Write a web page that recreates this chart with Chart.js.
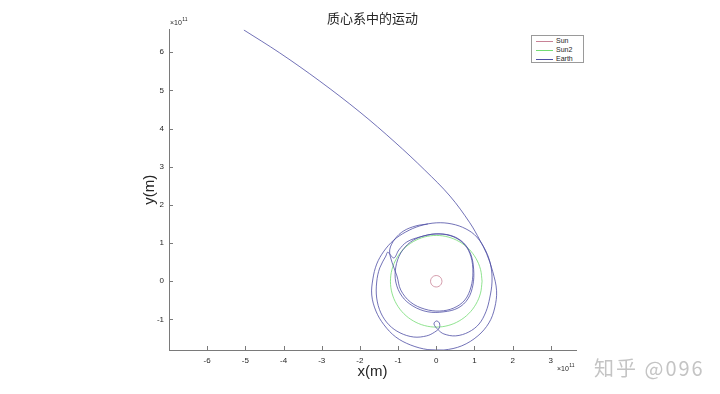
<!DOCTYPE html>
<html>
<head>
<meta charset="utf-8">
<script src="https://cdn.jsdelivr.net/npm/chart.js@4/dist/chart.umd.min.js"></script>
<style>
body{margin:0;background:#fff;}
#wrap{position:relative;width:720px;height:394px;}
#legend{position:absolute;left:531px;top:35px;width:51px;height:26px;border:1px solid #9a9a9a;background:#fff;font:7px "Liberation Sans",Arial,sans-serif;color:#262626;}
#legend div{position:relative;height:8px;margin-top:1px;}
#legend span.l{position:absolute;left:4px;top:4px;width:17px;height:1px;}
#legend span.t{position:absolute;left:24px;top:0;line-height:8px;}
#mark{position:absolute;left:594px;top:353px;font:20px "Noto Sans CJK SC",sans-serif;color:#c4c4c4;letter-spacing:2px;}
</style>
</head>
<body>
<div id="wrap">
<canvas id="c" width="720" height="394"></canvas>
<div id="legend"></div>
<div id="mark">知乎 @096</div>
</div>
<script>
// values in units of 1e11 m (axes show x10^11)
const names=["Sun","Sun2","Earth"];
const colors=["rgb(200,130,150)","rgb(115,220,115)","rgb(78,78,165)"];

const sunX=[0.15,0.13,0.075,0,-0.075,-0.13,-0.15,-0.13,-0.075,0,0.075,0.13,0.15];
const sunY=[0,0.075,0.13,0.15,0.13,0.075,0,-0.075,-0.13,-0.15,-0.13,-0.075,0];

const sun2X=[1.2,1.159,1.039,0.849,0.6,0.311,0,-0.311,-0.6,-0.849,-1.039,-1.159,-1.2,-1.159,-1.039,-0.849,-0.6,-0.311,0,0.311,0.6,0.849,1.039,1.159,1.2];
const sun2Y=[0,0.311,0.6,0.849,1.039,1.159,1.2,1.159,1.039,0.849,0.6,0.311,0,-0.311,-0.6,-0.849,-1.039,-1.159,-1.2,-1.159,-1.039,-0.849,-0.6,-0.311,0];

const earthX=[-5.04,-4.10,-3.05,-2.00,-1.08,-0.30,0.36,0.88,1.14,1.32,
 1.48,1.58,1.53,1.38,1.09,0.67,0.20,-0.22,-0.67,-1.06,-1.37,-1.58,-1.69,-1.66,-1.56,-1.37,-1.11,-0.80,-0.43,0,0.41,0.78,1.06,
 1.30,1.43,1.46,1.40,1.30,1.12,0.85,0.51,0.20,0.05,-0.06,0,0.08,0.08,-0.04,-0.25,-0.59,-0.95,-1.24,-1.45,-1.56,-1.56,-1.48,-1.32,-1.27,-1.11,-0.98,-0.77,
 -0.43,0,0.41,0.72,0.91,0.98,0.96,0.83,0.57,0.20,-0.22,-0.61,-0.90,-1.06,-1.06,-0.93,-0.67,-0.32,0.07,0.46,0.75,0.91,0.96,0.91,0.75,0.46,0.09,-0.30,-0.67,-0.93,-1.03,
 -1.16,-1.22,-1.08,-0.85,-0.53,-0.22];
const earthY=[6.58,5.98,5.24,4.43,3.64,2.91,2.23,1.53,1.08,0.72,
 0.25,-0.25,-0.70,-1.09,-1.43,-1.69,-1.80,-1.79,-1.67,-1.46,-1.14,-0.78,-0.36,0.06,0.45,0.79,1.08,1.29,1.45,1.53,1.50,1.37,1.16,
 0.79,0.40,-0.02,-0.44,-0.80,-1.12,-1.33,-1.43,-1.38,-1.27,-1.12,-1.04,-1.09,-1.22,-1.33,-1.43,-1.46,-1.35,-1.14,-0.83,-0.44,-0.02,0.35,0.66,0.76,0.61,0.82,1.03,
 1.16,1.24,1.19,1.00,0.69,0.30,-0.10,-0.46,-0.70,-0.80,-0.80,-0.65,-0.39,-0.02,0.37,0.74,1.03,1.19,1.24,1.16,0.95,0.64,0.24,-0.15,-0.49,-0.70,-0.78,-0.73,-0.55,-0.23,0.14,
 0.50,0.82,1.11,1.32,1.45,1.50];

const xTicks=[-6,-5,-4,-3,-2,-1,0,1,2,3];
const yTicks=[-1,0,1,2,3,4,5,6];

function pts(xs,ys){return xs.map((x,i)=>({x:x,y:ys[i]}));}

const series=[pts(sunX,sunY),pts(sun2X,sun2Y),pts(earthX,earthY)];

const axisCol="#7a7a7a";
const textCol="#262626";
const tickFont={family:"Liberation Sans, Arial, sans-serif",size:8};

const extras={
 id:"extras",
 afterDraw(chart){
  const ctx=chart.ctx,a=chart.chartArea,sx=chart.scales.x,sy=chart.scales.y;
  ctx.save();
  ctx.strokeStyle=axisCol;ctx.lineWidth=1;
  ctx.beginPath();
  xTicks.forEach(v=>{const p=Math.round(sx.getPixelForValue(v))+0.5;ctx.moveTo(p,a.bottom);ctx.lineTo(p,a.bottom-4);});
  yTicks.forEach(v=>{const p=Math.round(sy.getPixelForValue(v))+0.5;ctx.moveTo(a.left,p);ctx.lineTo(a.left+4,p);});
  ctx.stroke();
  ctx.fillStyle=textCol;
  ctx.textBaseline="alphabetic";
  function expo(x,y){
   ctx.font="7px Liberation Sans, Arial, sans-serif";
   ctx.textAlign="left";
   ctx.fillText("×10",x,y);
   const w=ctx.measureText("×10").width;
   ctx.font="5px Liberation Sans, Arial, sans-serif";
   ctx.fillText("11",x+w+0.5,y-4);
  }
  expo(a.left+1,a.top-5);
  expo(a.right-19,a.bottom+21);
  ctx.restore();
 }
};

new Chart(document.getElementById("c"),{
 type:"scatter",
 data:{datasets:series.map((d,i)=>({
  label:names[i],data:d,showLine:true,borderColor:colors[i],backgroundColor:colors[i],
  borderWidth:0.8,pointRadius:0,tension:0.35,order:2-i
 }))},
 options:{
  responsive:false,animation:false,
  layout:{padding:{left:130,right:144,top:0,bottom:0}},
  plugins:{
   legend:{display:false},tooltip:{enabled:false},
   title:{display:true,fullSize:false,text:"质心系中的运动",color:textCol,
    font:{family:"Noto Sans CJK SC",size:13,weight:"normal"},padding:{top:10,bottom:4}}
  },
  scales:{
   x:{type:"linear",min:-7.0,max:3.66,
    afterFit(s){s.height=44;},
    afterBuildTicks(s){s.ticks=xTicks.map(v=>({value:v}));},
    grid:{display:false,drawTicks:false},border:{display:true,color:axisCol,width:1},
    ticks:{color:textCol,font:tickFont,padding:6,maxRotation:0},
    title:{display:true,text:"x(m)",color:textCol,font:{family:"Liberation Sans, Arial, sans-serif",size:15},padding:{top:0,bottom:13}}
   },
   y:{type:"linear",min:-1.80,max:6.59,
    afterFit(s){s.width=39;},
    afterBuildTicks(s){s.ticks=yTicks.map(v=>({value:v}));},
    grid:{display:false,drawTicks:false},border:{display:true,color:axisCol,width:1},
    ticks:{color:textCol,font:tickFont,padding:5},
    title:{display:true,text:"y(m)",color:textCol,font:{family:"Liberation Sans, Arial, sans-serif",size:15},padding:{top:11,bottom:0}}
   }
  }
 },
 plugins:[extras]
});

const lg=document.getElementById("legend");
names.forEach((n,i)=>{
 const row=document.createElement("div");
 row.innerHTML='<span class="l" style="background:'+colors[i]+'"></span><span class="t">'+n+'</span>';
 lg.appendChild(row);
});
</script>
</body>
</html>
